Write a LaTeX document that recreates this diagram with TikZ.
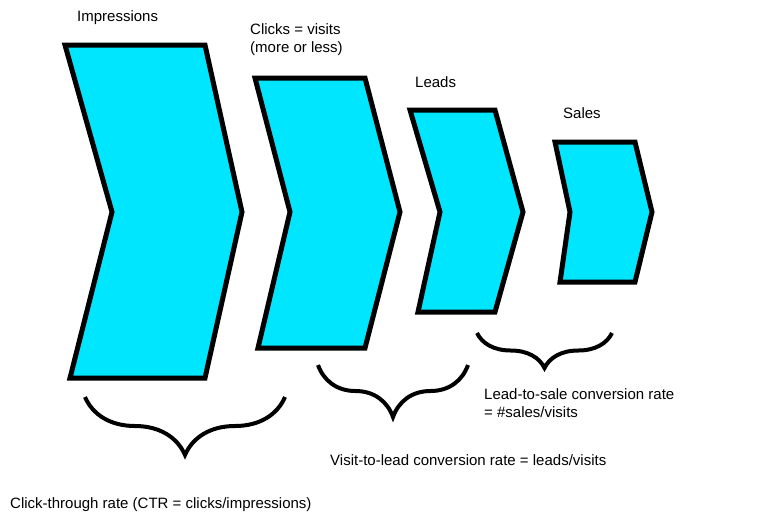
\documentclass[tikz,border=0pt]{standalone}
\usepackage{fontspec}
\setmainfont{Liberation Sans}
\usetikzlibrary{decorations.pathreplacing}
\definecolor{funnel}{RGB}{0,230,255}
\tikzstyle{chevron} = [draw=black, fill=funnel, line width=5pt, line join=miter]
\tikzstyle{caption} = [font=\fontsize{15}{18}\selectfont, align=left, inner sep=0pt]
\tikzstyle{curly} = [line width=4pt, decorate, decoration={brace, mirror}]
\begin{document}
\begin{tikzpicture}[x=1pt, y=-1pt]
\useasboundingbox (0,0) rectangle (778,523);

% chevrons, biggest to smallest
\draw [chevron] (65,45) -- (205,45) -- (242,212) -- (205,378) -- (70,378) -- (112,212) -- cycle;
\draw [chevron] (255,78) -- (365,78) -- (400,212) -- (365,348) -- (258,348) -- (290,212) -- cycle;
\draw [chevron] (410,110) -- (495,110) -- (523,212) -- (495,312) -- (418,312) -- (440,212) -- cycle;
\draw [chevron] (555,142) -- (635,142) -- (652,212) -- (635,282) -- (560,282) -- (570,212) -- cycle;

\node [caption, anchor=west] (impressions) at (77,18) {Impressions};
\node [caption, anchor=north west] (clicks) at (250,23) {Clicks = visits\\(more or less)};
\node [caption, anchor=west] (leads) at (415,82) {Leads};
\node [caption, anchor=west] (sales) at (563,113) {Sales};

\coordinate (ctr_a) at (85,397);
\coordinate (ctr_b) at (285,397);
\coordinate (vtl_a) at (318,365);
\coordinate (vtl_b) at (468,365);
\coordinate (lts_a) at (477,333);
\coordinate (lts_b) at (612,333);

\draw [curly, decoration={amplitude=58pt}] (ctr_a) -- (ctr_b);
\draw [curly, decoration={amplitude=52pt}] (vtl_a) -- (vtl_b);
\draw [curly, decoration={amplitude=35pt}] (lts_a) -- (lts_b);

\node [caption, anchor=north west] (lts) at (484,388) {Lead-to-sale conversion rate\\= \#sales/visits};
\node [caption, anchor=west] (vtl) at (330,460) {Visit-to-lead conversion rate = leads/visits};
\node [caption, anchor=west] (ctr) at (10,505) {Click-through rate (CTR = clicks/impressions)};

\end{tikzpicture}
\end{document}
